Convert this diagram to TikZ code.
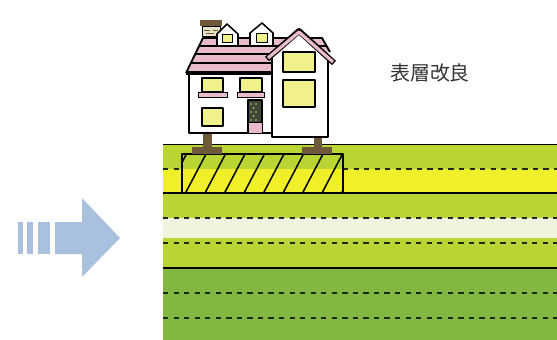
\documentclass[tikz,border=0pt]{standalone}
\usepackage{fontspec}
\newfontfamily\jpfont{Noto Sans CJK JP}
\definecolor{soilLight}{RGB}{184,213,52}
\definecolor{soilYellow}{RGB}{240,240,42}
\definecolor{soilPale}{RGB}{240,243,222}
\definecolor{soilDark}{RGB}{130,184,66}
\definecolor{roofPink}{RGB}{232,186,202}
\definecolor{winYellow}{RGB}{240,240,140}
\definecolor{postBrown}{RGB}{110,90,58}
\definecolor{arrowBlue}{RGB}{170,192,223}
\definecolor{lineDark}{RGB}{30,40,25}
\tikzset{
  outline/.style={draw=black, line width=1.3pt, line join=round},
  layerdash/.style={draw=lineDark, line width=1.1pt, dash pattern=on 4.5pt off 4.5pt},
  layerline/.style={draw=black, line width=1.1pt},
  window/.style={outline, fill=winYellow},
  sill/.style={draw=black, line width=0.8pt, fill=roofPink}
}
\begin{document}
\begin{tikzpicture}[x=0.03cm, y=-0.03cm]
    \useasboundingbox (0,0) rectangle (557,340);
    % arrow on the left
    \fill[arrowBlue] (18,222) rectangle (23,254);
    \fill[arrowBlue] (27,222) rectangle (33,254);
    \fill[arrowBlue] (38,222) rectangle (50,254);
    \fill[arrowBlue] (55,222) -- (82,222) -- (82,198) -- (120,238) -- (82,277) -- (82,254) -- (55,254) -- cycle;
    % soil layers
    \fill[soilLight] (163,144) rectangle (557,169);
    \fill[soilYellow] (163,169) rectangle (557,193);
    \fill[soilLight] (163,193) rectangle (557,218);
    \fill[soilPale] (163,218) rectangle (557,238);
    \fill[soilLight] (163,238) rectangle (557,268);
    \fill[soilDark] (163,268) rectangle (557,340);
    \draw[draw=black, line width=0.6pt] (163,144) -- (557,144);
    \draw[layerline] (163,193) -- (557,193);
    \draw[layerline] (163,268) -- (557,268);
    \draw[layerdash] (163,169) -- (182,169);
    \draw[layerdash] (343,169) -- (557,169);
    \foreach \y in {218,243,293,318}
        \draw[layerdash] (163,\y) -- (557,\y);
    % improved surface block
    \begin{scope}
        \clip (182,154) rectangle (343,193);
        \foreach \x in {166,185.5,...,350}
            \draw[line width=1.3pt] (\x,193) -- ++(21,-40);
    \end{scope}
    \draw[outline] (182,154) rectangle (343,193);
    % footings
    \fill[postBrown] (203,132) rectangle (212,148);
    \fill[postBrown] (192,147) rectangle (222,154);
    \fill[postBrown] (314,136) rectangle (322,148);
    \fill[postBrown] (302,147) rectangle (332,154);
    % roof
    \begin{scope}
        \clip (186,73) -- (203,38) -- (322,38) -- (330,52) -- (272,73) -- cycle;
        \fill[roofPink] (180,30) rectangle (340,80);
        \foreach \y in {46,54,63}
            \draw[line width=1.4pt] (180,\y) -- (340,\y);
    \end{scope}
    \draw[outline, line width=1.6pt] (186,73) -- (203,38) -- (322,38) -- (330,52);
    \draw[line width=2.6pt] (186,73) -- (272,73);
    % chimney
    \fill[postBrown] (200,20) rectangle (222,26);
    \filldraw[fill=winYellow!60!postBrown!40, draw=black, line width=0.6pt] (202,26) rectangle (220,36);
    \draw[postBrown, line width=0.7pt] (204,30) -- (210,30) (213,30) -- (218,30) (206,33) -- (214,33);
    % dormers
    \filldraw[outline, fill=white] (217,45) -- (217,34) -- (227,24) -- (238,34) -- (238,45);
    \filldraw[draw=black, line width=0.8pt, fill=winYellow] (222,34) rectangle (232,42);
    \filldraw[outline, fill=white] (250,45) -- (250,33) -- (262,23) -- (273,33) -- (273,45);
    \filldraw[draw=black, line width=0.8pt, fill=winYellow] (256,33) rectangle (267,42);
    % main body
    \filldraw[outline, fill=white] (189,74) rectangle (272,133);
    \filldraw[window] (202,78) rectangle (223,92);
    \filldraw[sill] (198,92) rectangle (227,97);
    \filldraw[window] (240,78) rectangle (262,92);
    \filldraw[sill] (237,92) rectangle (264,97);
    \filldraw[window] (202,108) rectangle (223,126);
    % door
    \filldraw[outline, fill=lineDark!85] (248,100) rectangle (262,133);
    \foreach \dx/\dy in {251/104,256/104,253.5/108,251/112,256/112,253.5/116,251/120,256/120}
        \fill[soilLight] (\dx,\dy) circle (0.8);
    \filldraw[draw=black, line width=0.8pt, fill=roofPink] (248,122) rectangle (262,133);
    % gable wing
    \filldraw[outline, fill=white] (272,137) -- (272,54) -- (299,33) -- (328,57) -- (328,137) -- cycle;
    \draw[line width=5pt, line join=round] (267,59) -- (299,31) -- (334,63);
    \draw[roofPink, line width=2.8pt, line join=round] (268,58) -- (299,32) -- (333,62);
    \filldraw[window] (283,52) rectangle (315,72);
    \filldraw[window] (283,80) rectangle (315,107);
    % label
    \node[font=\jpfont\fontsize{17}{20}\selectfont, text=black!80] (kaiyou) at (430,73) {表層改良};
\end{tikzpicture}
\end{document}
